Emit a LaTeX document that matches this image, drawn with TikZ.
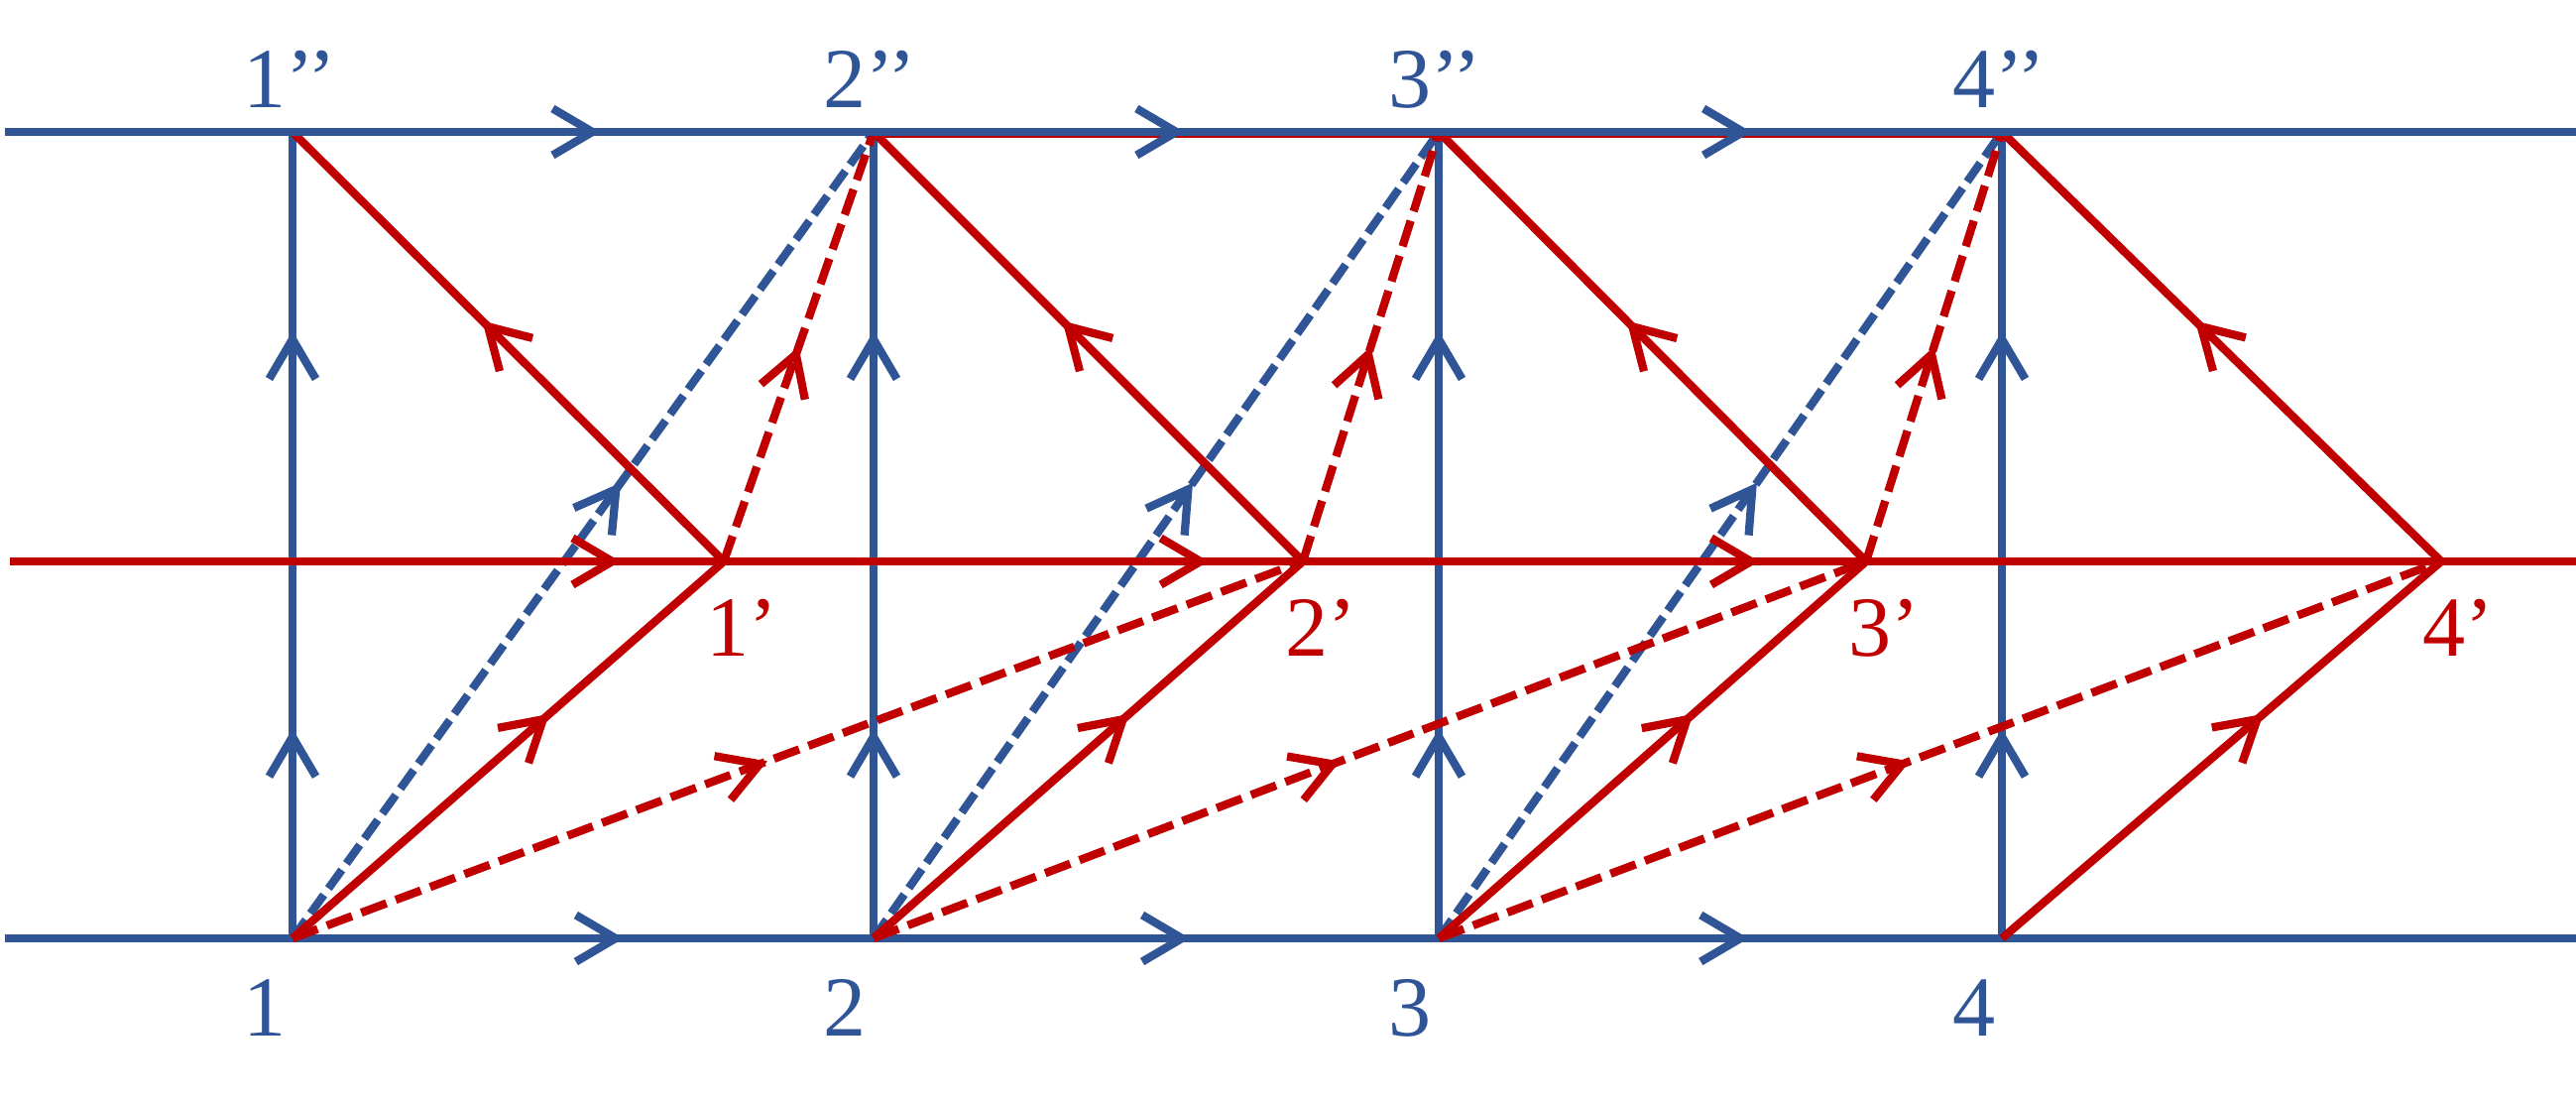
\documentclass[tikz,border=0pt]{standalone}
\usepackage{fontspec}
\setmainfont{Liberation Serif}
\usetikzlibrary{arrows.meta, decorations.markings}
\definecolor{lineblue}{HTML}{2F5597}
\definecolor{linered}{HTML}{C00000}
\tikzset{
	barb/.tip={Straight Barb[length=4mm,width=4.7mm]},
	midarrow/.style={postaction={decorate},
		decoration={markings, mark=at position #1 with {\arrow{barb}}}},
	uparrows/.style={postaction={decorate},
		decoration={markings, mark=at position 0.26 with {\arrow{barb}},
			mark=at position 0.753 with {\arrow{barb}}}},
	bluedash/.style={dash pattern=on 2.3mm off 0.8mm},
	reddash/.style={dash pattern=on 2.7mm off 1mm},
	ptlabel/.style={anchor=base west, inner sep=0pt, font=\fontsize{24.5}{29}\selectfont}
}

\begin{document}
\begin{tikzpicture}[x=0.01cm, y=-0.01cm, line width=2.35pt]
	\useasboundingbox (0,0) rectangle (2598,1113);
	% bottom row
	\coordinate (bL) at (5,946);
	\coordinate (b1) at (295,946);
	\coordinate (b2) at (881,946);
	\coordinate (b3) at (1451,946);
	\coordinate (b4) at (2019,946);
	\coordinate (bR) at (2598,946);
	% middle row
	\coordinate (mL) at (10,566);
	\coordinate (m1) at (730,566);
	\coordinate (m2) at (1314,566);
	\coordinate (m3) at (1882,566);
	\coordinate (m4) at (2462,566);
	\coordinate (mR) at (2598,566);
	% top row
	\coordinate (tL) at (5,133);
	\coordinate (t1) at (295,133);
	\coordinate (t2) at (881,133);
	\coordinate (t3) at (1451,133);
	\coordinate (t4) at (2019,133);
	\coordinate (tR) at (2598,133);

	\begin{scope}[lineblue]
	\path (b1) edge[uparrows] (t1);
	\path (b2) edge[uparrows] (t2);
	\path (b3) edge[uparrows] (t3);
	\path (b4) edge[uparrows] (t4);
	\path (bL) edge (b1);
	\path (b1) edge[midarrow=0.57] (b2);
	\path (b2) edge[midarrow=0.56] (b3);
	\path (b3) edge[midarrow=0.55] (b4);
	\path (b4) edge (bR);
	\path (b1) edge[bluedash, midarrow=0.565] (t2);
	\path (b2) edge[bluedash, midarrow=0.565] (t3);
	\path (b3) edge[bluedash, midarrow=0.565] (t4);
	\end{scope}

	\begin{scope}[linered]
	\draw ([yshift=-0.15mm]t2) -- ([yshift=-0.15mm]t4);
	\path (mL) edge[midarrow=0.855] (m1);
	\path (m1) edge[midarrow=0.837] (m2);
	\path (m2) edge[midarrow=0.81] (m3);
	\path (m3) edge (m4);
	\path (m4) edge (mR);
	\path (b1) edge[midarrow=0.595] (m1);
	\path (b2) edge[midarrow=0.595] (m2);
	\path (b3) edge[midarrow=0.595] (m3);
	\path (b4) edge[midarrow=0.595] (m4);
	\path (m1) edge[midarrow=0.56] (t1);
	\path (m2) edge[midarrow=0.56] (t2);
	\path (m3) edge[midarrow=0.56] (t3);
	\path (m4) edge[midarrow=0.56] (t4);
	\path (b1) edge[reddash, midarrow=0.47] (m2);
	\path (b2) edge[reddash, midarrow=0.47] (m3);
	\path (b3) edge[reddash, midarrow=0.47] (m4);
	\path (m1) edge[reddash, midarrow=0.5] (t2);
	\path (m2) edge[reddash, midarrow=0.5] (t3);
	\path (m3) edge[reddash, midarrow=0.5] (t4);
	\end{scope}

	\begin{scope}[lineblue]
	\path (tL) edge (t1);
	\path (t1) edge[midarrow=0.53] (t2);
	\path (t2) edge[midarrow=0.55] (t3);
	\path (t3) edge[midarrow=0.555] (t4);
	\path (t4) edge (tR);
	\end{scope}

	% labels
	\begin{scope}[every node/.style={ptlabel, text=lineblue}]
	\node (l1) at (241,1044) {1};
	\node (l2) at (826,1044) {2};
	\node (l3) at (1396,1044) {3};
	\node (l4) at (1965,1044) {4};
	\node (ltop1) at (241,109) {1’’};
	\node (ltop2) at (826,109) {2’’};
	\node (ltop3) at (1396,109) {3’’};
	\node (ltop4) at (1965,109) {4’’};
	\end{scope}
	\begin{scope}[every node/.style={ptlabel, text=linered}]
	\node (lmid1) at (708,661) {1’};
	\node (lmid2) at (1292,661) {2’};
	\node (lmid3) at (1860,661) {3’};
	\node (lmid4) at (2439,661) {4’};
	\end{scope}
\end{tikzpicture}
\end{document}
